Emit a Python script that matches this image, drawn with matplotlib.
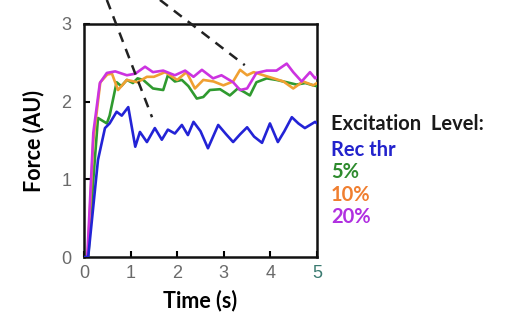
import matplotlib
matplotlib.use("Agg")
import matplotlib.pyplot as plt

# ---- data ----
t_rec = [0.0, 0.09, 0.3, 0.45, 0.55, 0.7, 0.81, 0.95, 1.1, 1.2, 1.35, 1.52, 1.67, 1.8, 1.95,
         2.1, 2.23, 2.35, 2.5, 2.66, 2.88, 3.05, 3.2, 3.35, 3.5, 3.65, 3.82, 3.99, 4.16, 4.3,
         4.46, 4.6, 4.74, 4.85, 4.96, 5.0]
f_rec = [0.0, 0.0, 1.25, 1.66, 1.72, 1.87, 1.82, 1.93, 1.42, 1.61, 1.48, 1.66, 1.51, 1.64, 1.59,
         1.70, 1.57, 1.74, 1.62, 1.40, 1.70, 1.58, 1.48, 1.58, 1.67, 1.55, 1.47, 1.72, 1.48, 1.62,
         1.80, 1.72, 1.66, 1.70, 1.74, 1.72]

t_5 = [0.09, 0.2, 0.3, 0.49, 0.55, 0.7, 0.8, 0.92, 1.05, 1.15, 1.27, 1.48, 1.7, 1.8, 1.95,
       2.1, 2.24, 2.42, 2.56, 2.7, 2.92, 3.13, 3.3, 3.45, 3.56, 3.7, 3.92, 4.13, 4.35, 4.56,
       4.75, 4.92, 5.0]
f_5 = [0.0, 1.0, 1.79, 1.72, 1.82, 2.25, 2.20, 2.28, 2.24, 2.30, 2.28, 2.17, 2.15, 2.34, 2.26,
       2.28, 2.20, 2.04, 2.06, 2.15, 2.16, 2.08, 2.17, 2.12, 2.08, 2.25, 2.30, 2.28, 2.25, 2.22,
       2.24, 2.21, 2.20]

t_10 = [0.08, 0.2, 0.35, 0.5, 0.6, 0.73, 0.92, 1.15, 1.35, 1.5, 1.74, 2.0, 2.2, 2.38, 2.56,
        2.78, 2.99, 3.2, 3.35, 3.5, 3.64, 3.85, 4.07, 4.28, 4.49, 4.7, 4.92, 5.0]
f_10 = [0.0, 1.5, 2.25, 2.35, 2.36, 2.15, 2.28, 2.25, 2.32, 2.32, 2.38, 2.28, 2.38, 2.17, 2.28,
        2.26, 2.21, 2.26, 2.41, 2.34, 2.38, 2.34, 2.30, 2.26, 2.17, 2.26, 2.21, 2.24]

t_20 = [0.07, 0.2, 0.34, 0.49, 0.67, 0.92, 1.1, 1.31, 1.48, 1.7, 1.95, 2.17, 2.35, 2.53, 2.77,
        2.95, 3.2, 3.35, 3.5, 3.7, 3.92, 4.13, 4.35, 4.49, 4.67, 4.85, 4.96, 5.0]
f_20 = [0.0, 1.6, 2.24, 2.37, 2.39, 2.34, 2.36, 2.45, 2.38, 2.40, 2.34, 2.40, 2.32, 2.41, 2.30,
        2.34, 2.25, 2.15, 2.17, 2.37, 2.40, 2.40, 2.49, 2.38, 2.26, 2.38, 2.30, 2.32]

dash1_x = [0.49, 1.46]
dash1_y = [3.31, 1.80]
dash2_x = [1.63, 3.45]
dash2_y = [3.31, 2.47]

legend_title = "Excitation  Level:"
legend_labels = ["Rec thr", "5%", "10%", "20%"]
xticks = [0, 1, 2, 3, 4, 5]
yticks = [0, 1, 2, 3]

# ---- style ----
c_rec, c_5, c_10, c_20 = "#2323d6", "#2f9a2f", "#f0a032", "#cc33e0"
txt_colors = ["#2323cc", "#2e8b2e", "#f07f30", "#b030e0"]

fig = plt.figure(figsize=(5.14, 3.21), dpi=100)
ax = fig.add_axes([84/514, 1 - 257/321, 233/514, 233/321])

kw = dict(lw=1.9, solid_joinstyle="round", solid_capstyle="round")
ax.plot(t_5, f_5, color=c_5, zorder=3, **kw)
ax.plot(t_10, f_10, color=c_10, zorder=4, **kw)
ax.plot(t_20, f_20, color=c_20, zorder=5, **kw)
ax.plot(t_rec, f_rec, color=c_rec, zorder=6, **kw)

ax.plot(dash1_x, dash1_y, color="#222222", lw=1.8, ls=(0, (4, 3)), clip_on=False, zorder=7)
ax.plot(dash2_x, dash2_y, color="#222222", lw=1.8, ls=(0, (4, 3)), clip_on=False, zorder=7)

ax.set_xlim(0, 5)
ax.set_ylim(0, 3)
ax.set_xticks(xticks)
ax.set_yticks(yticks)
ax.tick_params(direction="in", length=4, width=1.5, labelsize=13, labelcolor="#6a6a6a")
ax.tick_params(axis="x", pad=6)
ax.tick_params(axis="y", pad=9)
for lbl in ax.get_xticklabels() + ax.get_yticklabels():
    lbl.set_family("Liberation Sans")
for lbl in ax.get_xticklabels():
    if lbl.get_text() == "5":
        lbl.set_color("#3a7a70")
for s in ax.spines.values():
    s.set_linewidth(1.8)
    s.set_color("#111111")

ax.set_xlabel("Time (s)", fontsize=15.5, fontweight="bold", family="Lato", labelpad=5)
ax.set_ylabel("Force (AU)", fontsize=15.5, fontweight="bold", family="Lato", labelpad=12)

fig.text(331/514, 1 - 124/321, legend_title, fontsize=14.5, fontweight="bold", family="Lato",
         color="#1a1a1a", va="center", ha="left")
ys = [150, 172, 195, 217]
for lab, col, y in zip(legend_labels, txt_colors, ys):
    fig.text(331/514, 1 - y/321, lab, fontsize=14.5, fontweight="bold", family="Lato",
             color=col, va="center", ha="left")

fig.savefig("out.png", dpi=100, facecolor="white")
